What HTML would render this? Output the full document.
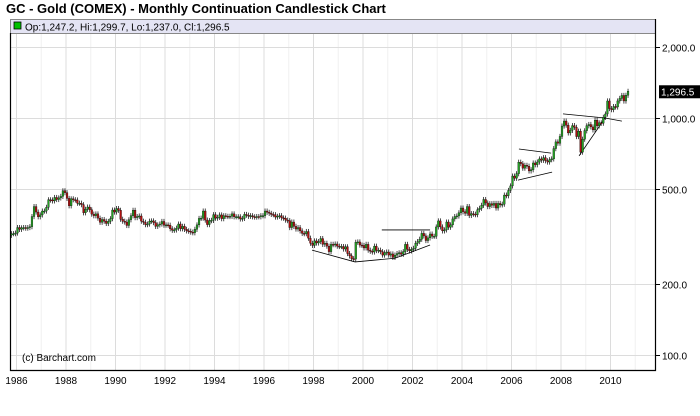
<!DOCTYPE html>
<html><head><meta charset="utf-8"><style>
body{margin:0;background:#fff;width:700px;height:411px;overflow:hidden;font-family:"Liberation Sans",sans-serif}
</style></head><body>
<svg id="c" width="700" height="411" xmlns="http://www.w3.org/2000/svg">
<text x="6" y="13" font-size="13" font-weight="bold" fill="#000">GC - Gold (COMEX) - Monthly Continuation Candlestick Chart</text>
<rect x="10.5" y="19.5" width="645" height="14" fill="#e4e4f4" stroke="#888"/>
<rect x="14" y="22" width="7" height="7" fill="#00c000" stroke="#000" stroke-width="0.8"/>
<text x="25" y="30.5" font-size="10" fill="#000">Op:1,247.2, Hi:1,299.7, Lo:1,237.0, Cl:1,296.5</text>
<g id="grid"></g><g id="ann"></g><g id="candles"></g><g id="axes"></g>
<text x="22" y="361" font-size="10" fill="#000">(c) Barchart.com</text>
</svg>
<script>
const closes = [325,325,327,
345,339,344,345,343,345,348,384,423,401,383,390,
405,405,420,452,451,447,462,453,460,467,493,484,
458,426,456,452,451,437,437,431,398,412,421,410,
393,387,394,378,363,373,367,359,366,376,409,401,
415,408,374,367,364,352,372,387,408,380,384,386,
367,363,355,357,367,368,362,349,354,357,366,353,
354,353,341,336,337,343,357,341,349,339,334,333,
330,328,339,354,377,378,405,371,355,369,370,391,
378,381,390,376,387,385,384,385,394,383,383,383,
375,377,392,389,385,387,383,382,384,383,387,387,
405,400,396,392,391,382,385,387,379,378,371,369,
345,364,349,340,345,334,326,325,332,311,296,290,
303,297,301,310,293,296,288,273,293,292,294,288,
287,287,280,286,268,262,255,254,299,300,291,290,
283,293,277,274,272,288,276,277,273,264,270,272,
264,267,258,264,268,270,266,273,293,279,275,279,
282,296,301,308,326,318,304,312,324,317,317,347,
368,347,334,337,364,346,354,375,384,386,398,417,
402,396,423,388,395,393,391,410,416,428,453,438,
423,435,428,436,417,436,430,433,473,470,495,517,
569,557,582,651,642,614,632,626,598,605,646,635,
652,672,663,680,660,652,667,672,743,793,783,836,
925,971,933,865,887,929,914,835,880,718,814,883,
927,939,917,891,979,927,954,951,1007,1040,1180,1096,
1084,1118,1113,1180,1210,1245,1180,1247.2,1296.5];
const startYear = 1985.75;
const firstOpen = 320;
const yTicks = [2000,1000,500,200,100];
const yTickLabels = ["2,000.0","1,000.0","500.0","200.0","100.0"];
const xYears = [1986,1988,1990,1992,1994,1996,1998,2000,2002,2004,2006,2008,2010];
const lastLabel = "1,296.5";
const annotations = [
 [[2006.30,740],[2007.60,711]],
 [[2006.26,547],[2007.64,591]],
 [[2008.08,1041],[2009.78,1000],[2010.46,970]],
 [[2008.73,692],[2009.78,1000]],
 [[2000.76,337],[2002.71,337]],
 [[1997.94,277],[1999.68,247],[2001.29,256],[2002.71,291]]
];
const NS="http://www.w3.org/2000/svg";
const X=t=>16.5+(t-1986)*24.75;
const Y=p=>355-237*Math.log10(p/100);
function mk(tag,attrs,parent){const e=document.createElementNS(NS,tag);for(const k in attrs)e.setAttribute(k,attrs[k]);document.getElementById(parent).appendChild(e);return e;}
for(let yr=1986;yr<=2011;yr++){const l=mk('line',{x1:X(yr),x2:X(yr),y1:34,y2:370,stroke:yr%2?'#f0f0f0':'#dcdcdc','stroke-width':1},'grid');

}
yTicks.forEach((v,i)=>{const y=Math.round(Y(v))+0.5;
const g=mk('line',{x1:11,x2:655,y1:y,y2:y,stroke:'#dcdcdc'},'grid');


const tk=mk('line',{x1:655,x2:660,y1:y,y2:y,stroke:'#000'},'axes');


const t=mk('text',{x:662,y:y+4,'font-size':10,fill:'#000'},'axes');t.textContent=yTickLabels[i];

});
xYears.forEach(yr=>{const t=mk('text',{x:X(yr),y:384,'font-size':10,'text-anchor':'middle',fill:'#000'},'axes');t.textContent=yr;

});
const fr=mk('path',{d:'M10.5 33 V370.5 H655.5 V19',fill:'none',stroke:'#000','stroke-width':1.2},'axes');


annotations.forEach(pts=>{const p=mk('polyline',{points:pts.map(q=>X(q[0])+','+Y(q[1])).join(' '),fill:'none',stroke:'#000','stroke-width':0.8},'ann');

});
let prev=firstOpen;
closes.forEach((c,i)=>{const o=prev;prev=c;const t=startYear+(i+0.5)/12;const x=X(t);
const hi=Math.max(o,c)*1.025,lo=Math.min(o,c)*0.975;
const w=mk('line',{x1:x,x2:x,y1:Y(hi),y2:Y(lo),stroke:'#000','stroke-width':0.7},'candles');


const top=Y(Math.max(o,c)),bot=Y(Math.min(o,c));
const b=mk('rect',{x:x-0.9,y:top,width:1.8,height:Math.max(1,bot-top),fill:c>=o?'#22a022':'#b01010',stroke:'#000','stroke-width':0.3},'candles');

});
const ly=Y(closes[closes.length-1]);
const lb=mk('rect',{x:659,y:ly-6,width:41,height:13,fill:'#000'},'axes');


const lt=mk('text',{x:661,y:ly+4,'font-size':10,fill:'#fff'},'axes');lt.textContent=lastLabel;


</script>
</body></html>
